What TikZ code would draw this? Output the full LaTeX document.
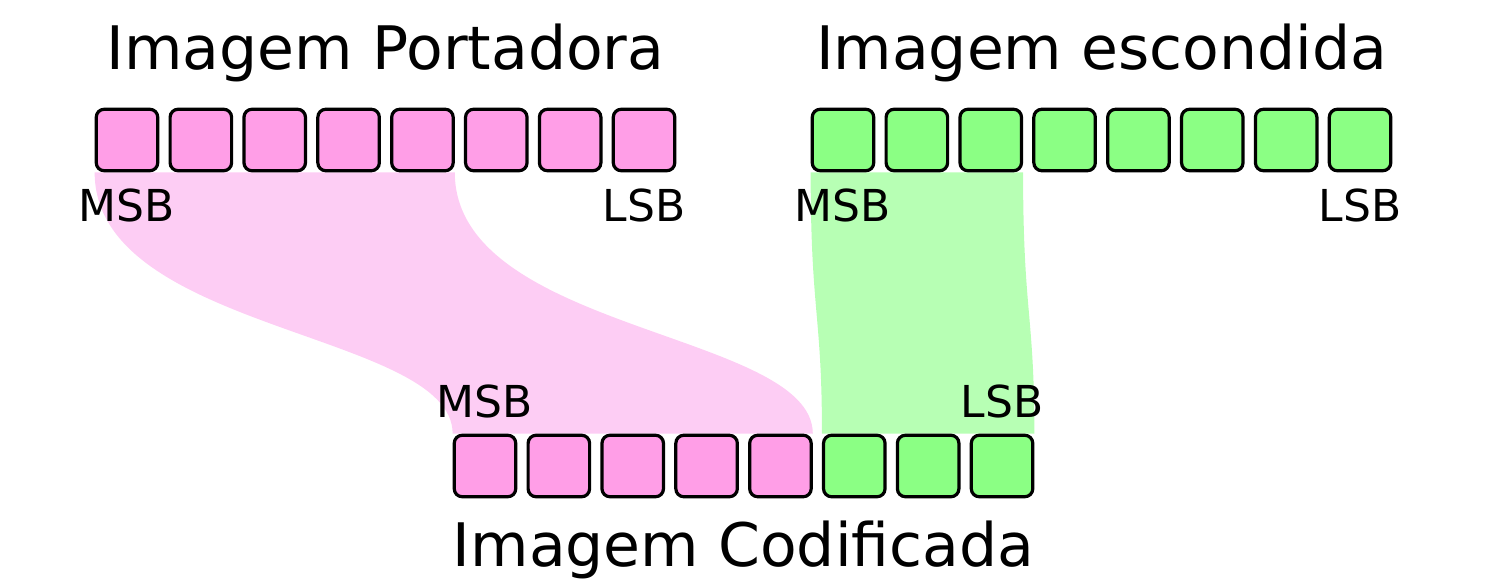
\documentclass[tikz,border=0pt]{standalone}
\usepackage{fontspec}
\setmainfont{DejaVu Sans}
\usetikzlibrary{backgrounds,calc}
\definecolor{boxpink}{HTML}{FF9EE7}
\definecolor{boxgreen}{HTML}{8BFF84}
\definecolor{bandpink}{HTML}{FDCDF4}
\definecolor{bandgreen}{HTML}{B7FFB4}
\begin{document}
\begin{tikzpicture}[
  bit/.style={draw=black, line width=3.2pt, rounded corners=8pt, minimum width=61.5pt, minimum height=61.5pt, inner sep=0pt, outer sep=1.6pt},
  pinkbit/.style={bit, fill=boxpink},
  greenbit/.style={bit, fill=boxgreen},
  title/.style={font=\fontsize{60}{72}\selectfont, anchor=base, inner sep=0pt},
  lbl/.style={font=\fontsize{44}{52}\selectfont, anchor=base, inner sep=0pt}]
\useasboundingbox (0,0) rectangle (1498pt,-588pt);
\foreach \i in {1,...,8} {
  \node[pinkbit] (a\i) at ({127pt+(\i-1)*73.86pt}, -140pt) {};
  \node[greenbit] (b\i) at ({843pt+(\i-1)*73.86pt}, -140pt) {};
}
\foreach \i in {1,...,5} {
  \node[pinkbit] (c\i) at ({485pt+(\i-1)*73.86pt}, -466pt) {};
}
\foreach \i in {6,7,8} {
  \node[greenbit] (c\i) at ({485pt+(\i-1)*73.86pt}, -466pt) {};
}
\begin{scope}[on background layer]
  \fill[bandpink] (a1.south west) .. controls +(0,-160pt) and +(0,102pt) .. (c1.north west)
     -- (c5.north east) .. controls +(0,102pt) and +(0,-160pt) .. (a5.south east) -- cycle;
  \fill[bandgreen] (b1.south west) .. controls +(0,-140pt) and +(0,120pt) .. (c6.north west)
     -- (c8.north east) .. controls +(0,120pt) and +(0,-140pt) .. (b3.south east) -- cycle;
\end{scope}
\node[lbl] (ma) at ($(a1.south)+(0,-49pt)$) {MSB};
\node[lbl] (la) at ($(a8.south)+(0,-49pt)$) {LSB};
\node[lbl] (mb) at ($(b1.south)+(0,-49pt)$) {MSB};
\node[lbl] (lb) at ($(b8.south)+(0,-49pt)$) {LSB};
\node[lbl] (mc) at ($(c1.north)+(0,16pt)$) {MSB};
\node[lbl] (lc) at ($(c8.north)+(0,16pt)$) {LSB};
\node[title] (ta) at ($(a1.north west)!0.5!(a8.north east)+(0,38pt)$) {Imagem Portadora};
\node[title] (tb) at ($(b1.north west)!0.5!(b8.north east)+(0,38pt)$) {Imagem escondida};
\node[title] (tc) at ($(c1.south west)!0.5!(c8.south east)+(0,-68pt)$) {Imagem Codificada};
\end{tikzpicture}
\end{document}
